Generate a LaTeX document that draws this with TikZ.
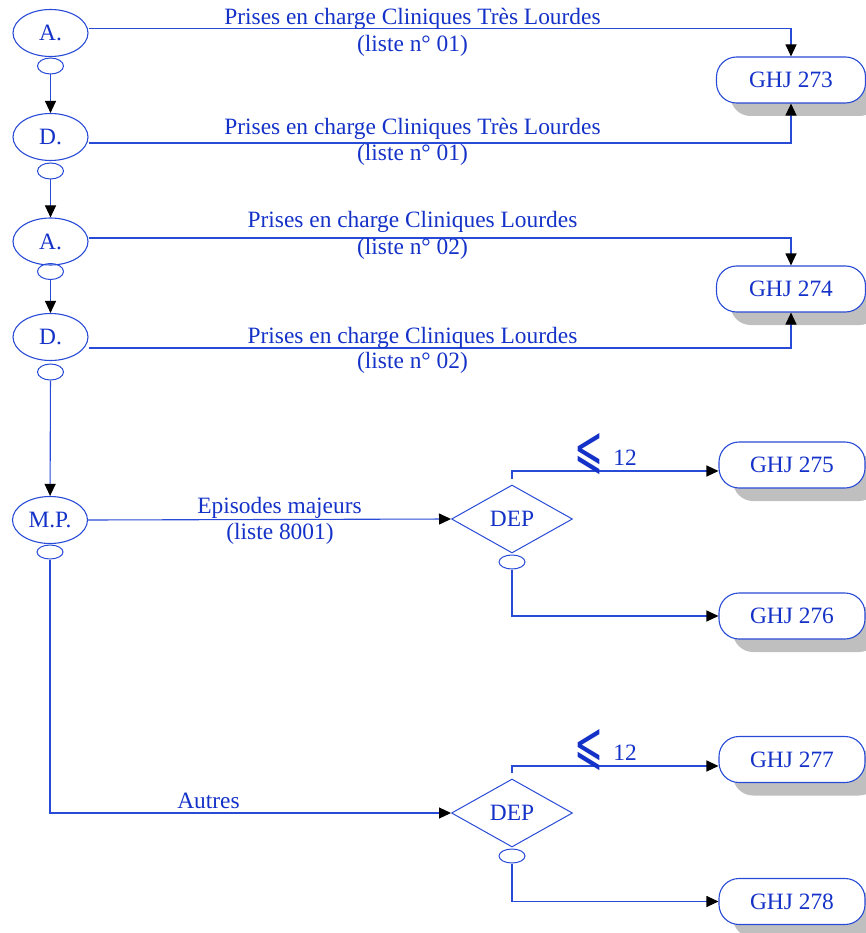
\documentclass[tikz,border=0pt]{standalone}
\usepackage{fontspec}
\setmainfont{Liberation Serif}
\newfontfamily\symfont{DejaVu Sans}
\usetikzlibrary{arrows.meta,shapes.geometric,shadows}

\definecolor{lineblue}{RGB}{40,75,215}
\definecolor{textblue}{RGB}{20,50,200}

\begin{document}
\begin{tikzpicture}[x=1pt,y=-1pt,
  font=\fontsize{23.4}{27}\selectfont,
  every node/.style={text=textblue},
  conn/.style={draw=lineblue, line width=1.1pt},
  arr/.style={conn, -{Triangle[length=12pt,width=11pt,color=black]}},
  lobe/.style={ellipse, draw=lineblue, line width=1.1pt, minimum width=75pt,
    minimum height=47pt, inner sep=0pt},
  knob/.style={ellipse, draw=lineblue, line width=1pt, minimum width=26pt,
    minimum height=16pt, inner sep=0pt},
  ghj/.style={draw=lineblue, line width=1.1pt, rounded corners=20pt, fill=white,
    minimum width=146pt, minimum height=46pt, inner sep=0pt,
    general shadow={fill=black!25, shadow xshift=14pt, shadow yshift=-13pt}},
  dep/.style={diamond, draw=lineblue, line width=1pt, minimum width=121pt,
    minimum height=68pt, inner sep=0pt},
  lbl/.style={anchor=base, inner sep=0pt},
  leq/.style={inner sep=0pt, font=\symfont}]

\useasboundingbox (0,0) rectangle (866,933);

% left column of states
\node[lobe] (A1) at (50.5,33) {A.};
\node[knob] (A1k) at (50.5,66) {};
\node[lobe] (D1) at (50.5,137) {D.};
\node[knob] (D1k) at (50.5,171) {};
\node[lobe] (A2) at (50.5,241.5) {A.};
\node[knob] (A2k) at (50.5,271.5) {};
\node[lobe] (D2) at (50.5,337) {D.};
\node[knob] (D2k) at (50.5,372) {};
\node[lobe] (MP) at (50,520) {M.P.};
\node[knob, minimum height=14pt] (MPk) at (50,552) {};

% decisions
\node[dep] (DEP1) at (512,519) {DEP};
\node[knob, minimum height=14pt] (DEP1k) at (512,562) {};
\node[dep] (DEP2) at (512,813) {DEP};
\node[knob, minimum height=14pt] (DEP2k) at (512,856) {};

% groups
\node[ghj, minimum width=149pt] (G273) at (791,80) {GHJ 273};
\node[ghj, minimum width=149pt] (G274) at (791,289) {GHJ 274};
\node[ghj] (G275) at (792,465) {GHJ 275};
\node[ghj] (G276) at (792,616) {GHJ 276};
\node[ghj] (G277) at (792,759.5) {GHJ 277};
\node[ghj] (G278) at (792,901.5) {GHJ 278};

% vertical chain
\draw[arr] (A1k) -- (D1);
\draw[arr] (D1k) -- (A2);
\draw[arr] (A2k) -- (D2);
\draw[arr] (D2k) -- (MP);

% lists towards groups
\draw[arr] ([yshift=4.5pt]A1.east) -| (G273.north);
\draw[arr] ([yshift=-6pt]D1.east) -| (G273.south);
\draw[arr] ([yshift=3.5pt]A2.east) -| (G274.north);
\draw[arr] ([yshift=-11pt]D2.east) -| (G274.south);
\draw[arr] (MP.east) -- (DEP1.west);
\draw[arr] (MPk.south) |- (DEP2.west);

% decision branches
\draw[arr, shorten <=6pt] (DEP1.north) |- ([yshift=-6pt]G275.west);
\draw[arr] (DEP1k.south) |- (G276.west);
\draw[arr, shorten <=6pt] (DEP2.north) |- ([yshift=-6.5pt]G277.west);
\draw[arr] (DEP2k.south) |- (G278.west);

% labels
\node[lbl] (t1a) at (412.5,25) {Prises en charge Cliniques Très Lourdes};
\node[lbl] (t1b) at (412.5,52) {(liste n° 01)};
\node[lbl] (t2a) at (412.5,135) {Prises en charge Cliniques Très Lourdes};
\node[lbl] (t2b) at (412.5,161) {(liste n° 01)};
\node[lbl] (t3a) at (412.5,228) {Prises en charge Cliniques Lourdes};
\node[lbl] (t3b) at (412.5,254) {(liste n° 02)};
\node[lbl] (t4a) at (412.5,343) {Prises en charge Cliniques Lourdes};
\node[lbl] (t4b) at (412.5,368) {(liste n° 02)};
\node[lbl] (t5a) at (279.5,513) {Episodes majeurs};
\node[lbl] (t5b) at (280,539) {(liste 8001)};
\node[lbl] (t6) at (208.5,808) {Autres};

\node[leq] (le1) at (588.5,454.5) {\resizebox{29pt}{34pt}{⩽}};
\node[lbl] (n1) at (625,465) {12};
\node[leq] (le2) at (588.5,750.5) {\resizebox{29pt}{34pt}{⩽}};
\node[lbl] (n2) at (625,760) {12};
\end{tikzpicture}
\end{document}
